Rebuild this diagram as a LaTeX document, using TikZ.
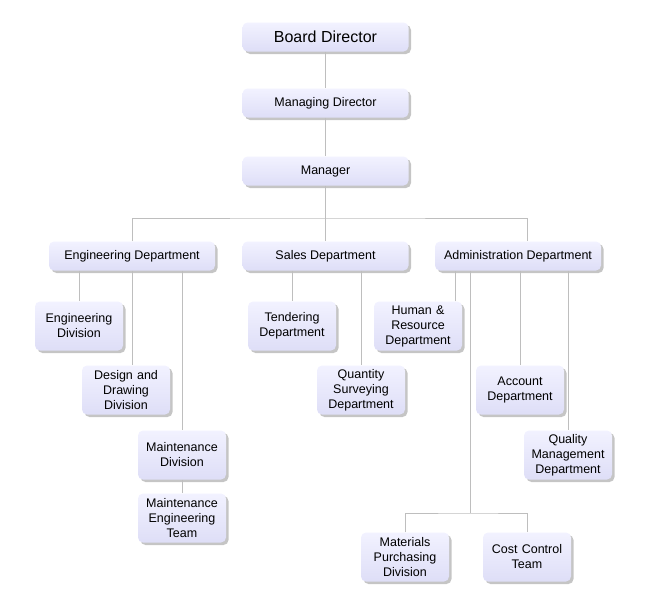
\documentclass[tikz,border=0pt]{standalone}
\usepackage{fontspec}
\setmainfont{Liberation Sans}
\usepackage{tikz}
\usetikzlibrary{shadows}

\definecolor{boxtop}{RGB}{242,242,255}
\definecolor{boxbot}{RGB}{222,222,247}
\definecolor{linkgray}{RGB}{190,190,190}

\tikzset{
  orgbox/.style={rounded corners=5pt, top color=boxtop, bottom color=boxbot,
    drop shadow={shadow xshift=2.5pt, shadow yshift=-2.5pt, fill=black!45},
    align=center, font=\fontsize{12.5}{15}\selectfont, inner sep=2pt},
  wide/.style={orgbox, minimum width=166pt, minimum height=29pt},
  small/.style={orgbox, minimum width=88pt, minimum height=49pt, text width=84pt},
  link/.style={linkgray, line width=0.8pt}
}

\begin{document}
\begin{tikzpicture}[x=1pt, y=-1pt]
  \useasboundingbox (0,0) rectangle (650,600);

  % top of the chart
  \node[wide, font=\fontsize{16}{18}\selectfont] (bd) at (325.5,37) {Board Director};
  \node[wide] (md) at (325.5,103) {Managing Director};
  \node[wide] (mgr) at (325.5,171) {Manager};

  % departments
  \node[wide] (eng) at (132,256) {Engineering Department};
  \node[wide] (sales) at (325.5,256) {Sales Department};
  \node[wide] (admin) at (518,256) {Administration Department};

  \node[small] (ediv) at (79,326) {Engineering\\Division};
  \node[small] (ddiv) at (126,390) {Design and\\Drawing\\Division};
  \node[small] (mdiv) at (182,455) {Maintenance\\Division};
  \node[small] (metm) at (182,518) {Maintenance\\Engineering\\Team};

  \node[small] (tend) at (292,326) {Tendering\\Department};
  \node[small] (qsd) at (361,390) {Quantity\\Surveying\\Department};

  \node[small] (hr) at (418,326) {Human \&\\Resource\\Department};
  \node[small] (acc) at (520,390) {Account\\Department};
  \node[small] (qmd) at (568,455) {Quality\\Management\\Department};
  \node[small] (mpd) at (405,557) {Materials\\Purchasing\\Division};
  \node[small] (cct) at (527,557) {Cost Control\\Team};

  \coordinate (bus) at (325.5,218);
  \coordinate (mbus) at (470,513);

  \draw[link] (bd) -- (md);
  \draw[link] (md) -- (mgr);
  \draw[link] (mgr.south) -- (bus);
  \draw[link] (eng.north) |- (bus) -| ([xshift=9pt]admin.north);
  \draw[link] (bus) -- (sales.north);

  \draw[link] (eng.south -| ediv.north) -- (ediv.north);
  \draw[link] (eng.south) -- (eng.south |- ddiv.north);
  \draw[link] (eng.south -| mdiv.north) -- (mdiv.north);
  \draw[link] (mdiv) -- (metm);

  \draw[link] (sales.south -| tend.north) -- (tend.north);
  \draw[link] (sales.south -| qsd.north) -- (qsd.north);

  \draw[link] ([xshift=37pt]hr.north) -- ([xshift=37pt]hr.north |- admin.south);
  \draw[link] (admin.south -| acc.north) -- (acc.north);
  \draw[link] (admin.south -| qmd.north) -- (qmd.north);
  \draw[link] (mbus |- admin.south) -- (mbus);
  \draw[link] (mpd.north) |- (mbus) -| (cct.north);
\end{tikzpicture}
\end{document}
